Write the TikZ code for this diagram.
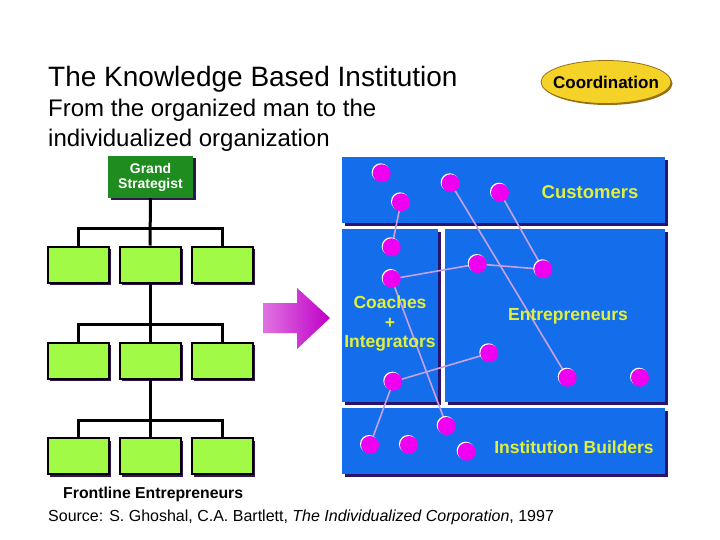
\documentclass[tikz,border=0pt]{standalone}
\usepackage{fontspec}
\setmainfont{Liberation Sans}
\usetikzlibrary{shadows,shapes.geometric}
\definecolor{gboxc}{RGB}{160,250,70}
\definecolor{gsgreen}{RGB}{30,140,30}
\definecolor{shpurple}{RGB}{50,20,80}
\definecolor{bboxc}{RGB}{20,110,235}
\definecolor{shnavy}{RGB}{40,20,110}
\definecolor{dotc}{RGB}{240,0,240}
\definecolor{lavc}{RGB}{200,160,230}
\definecolor{ylwc}{RGB}{225,240,60}
\definecolor{arrL}{RGB}{225,115,225}
\definecolor{arrR}{RGB}{190,0,200}
\definecolor{coordc}{RGB}{245,210,40}
\definecolor{coordsh}{RGB}{150,110,20}
\pgfdeclarelayer{boxlayer}
\pgfdeclarelayer{linklayer}
\pgfsetlayers{boxlayer,linklayer,main}
\begin{document}
\begin{tikzpicture}[x=1pt,y=-1pt,
  orgbox/.style={draw=black, line width=2pt, fill=gboxc, minimum width=61pt, minimum height=36pt, inner sep=0pt,
    drop shadow={shadow xshift=2.5pt, shadow yshift=-2.5pt, fill=shpurple, opacity=1}},
  bluebox/.style={fill=bboxc, inner sep=0pt,
    drop shadow={shadow xshift=3pt, shadow yshift=-3pt, fill=shnavy, opacity=1}},
  dotn/.style={circle, fill=dotc, minimum size=18pt, inner sep=0pt,
    drop shadow={shadow xshift=-1pt, shadow yshift=1pt, fill=white, opacity=1}},
  link/.style={draw=lavc, line width=1.6pt},
  orgline/.style={draw=black, line width=3pt},
  lbl/.style={text=ylwc, font=\bfseries\fontsize{17.5}{19.5}\selectfont, align=center, inner sep=0pt}
]
\begin{pgfonlayer}{boxlayer}
\useasboundingbox (0,0) rectangle (720,540);
\fill[white] (0,0) rectangle (720,540);
\end{pgfonlayer}

% titles
\node[anchor=base west, inner sep=0pt, font=\fontsize{28}{32}\selectfont] (title) at (48,87) {The Knowledge Based Institution};
\node[anchor=base west, inner sep=0pt, font=\fontsize{24}{30}\selectfont] (sub1) at (48,117) {From the organized man to the};
\node[anchor=base west, inner sep=0pt, font=\fontsize{24}{30}\selectfont] (sub2) at (48,147) {individualized organization};

% coordination
\node[ellipse, fill=coordc, draw=coordsh, line width=0.8pt, minimum width=130pt, minimum height=43pt,
  inner xsep=-8.5pt, inner ysep=0pt,
  font=\bfseries\fontsize{17}{20}\selectfont,
  drop shadow={shadow xshift=1.5pt, shadow yshift=-1.5pt, fill=coordsh, opacity=1}] (coord) at (606,82) {Coordination};

% org chart
\node[fill=gsgreen, minimum width=85pt, minimum height=42pt, inner sep=0pt, align=center, text=white,
  font=\bfseries\fontsize{14}{15}\selectfont,
  drop shadow={shadow xshift=2.5pt, shadow yshift=-2.5pt, fill=shpurple, opacity=1}] (gs) at (150.5,177) {Grand\\Strategist};

\node[orgbox] (a1) at (78,264.5) {};
\node[orgbox] (a2) at (150,264.5) {};
\node[orgbox] (a3) at (222,264.5) {};
\node[orgbox] (b1) at (78,360.5) {};
\node[orgbox] (b2) at (150,360.5) {};
\node[orgbox] (b3) at (222,360.5) {};
\node[orgbox] (c1) at (78,456) {};
\node[orgbox] (c2) at (150,456) {};
\node[orgbox] (c3) at (222,456) {};
\coordinate (h1) at (150,229);
\coordinate (h2) at (150,324);
\coordinate (h3) at (150,420);
\draw[orgline] (gs.south) -- (a2.north);
\draw[orgline] (a1.north) |- (h1) -| (a3.north);
\draw[orgline] (a2.south) -- (b2.north);
\draw[orgline] (b1.north) |- (h2) -| (b3.north);
\draw[orgline] (b2.south) -- (c2.north);
\draw[orgline] (c1.north) |- (h3) -| (c3.north);

\node[anchor=base west, inner sep=0pt, font=\bfseries\fontsize{15.8}{18}\selectfont] (front) at (63,498.5) {Frontline Entrepreneurs};
\node[anchor=base west, inner sep=0pt, font=\fontsize{16}{18}\selectfont] (src) at (48,521) {Source: S. Ghoshal, C.A. Bartlett, \textit{The Individualized Corporation}, 1997};

% big arrow
\shade[left color=arrL, right color=arrR] (263,303) -- (297,303) -- (297,288) -- (330,318) -- (297,349) -- (297,333) -- (263,333) -- cycle;

% blue boxes
\begin{pgfonlayer}{boxlayer}
\node[bluebox, minimum width=323pt, minimum height=66pt] (cust) at (503.5,190) {};
\node[bluebox, minimum width=96pt, minimum height=173pt] (coach) at (390,315.5) {};
\node[bluebox, minimum width=220pt, minimum height=173pt] (entr) at (555,315.5) {};
\node[bluebox, minimum width=323pt, minimum height=66pt] (inst) at (503.5,441) {};
\end{pgfonlayer}

% dots
\node[dotn] (d1) at (381.7,173.3) {};
\node[dotn] (d2) at (450.7,183.3) {};
\node[dotn] (d3) at (500,192.7) {};
\node[dotn] (d4) at (401,202.3) {};
\node[dotn] (d5) at (391.7,247.3) {};
\node[dotn] (d6) at (477.7,264) {};
\node[dotn] (d7) at (543.3,269.3) {};
\node[dotn] (d8) at (391.7,279) {};
\node[dotn] (d9) at (489.3,353.3) {};
\node[dotn] (d10) at (393.3,381.7) {};
\node[dotn] (d11) at (567.7,377.7) {};
\node[dotn] (d12) at (640,377.7) {};
\node[dotn] (d13) at (446.7,426) {};
\node[dotn] (d14) at (370,445) {};
\node[dotn] (d15) at (409,445) {};
\node[dotn] (d16) at (466.7,451.7) {};

% links (behind dots)
\begin{pgfonlayer}{linklayer}
\draw[link] (d4.center) -- (d5.center);
\draw[link] (d8.center) -- (d6.center);
\draw[link] (d6.center) -- (d7.center);
\draw[link] (d3.center) -- (d7.center);
\draw[link] (d2.center) -- (d11.center);
\draw[link] (d8.center) -- (d13.center);
\draw[link] (d10.center) -- (d9.center);
\draw[link] (d10.center) -- (d14.center);
\end{pgfonlayer}

% labels
\node[lbl, font=\bfseries\fontsize{18.5}{20}\selectfont] (lcust) at (590,192) {Customers};
\node[lbl] (lcoach) at (390,324) {Coaches\\+\\Integrators};
\node[lbl] (lentr) at (568,316) {Entrepreneurs};
\node[lbl] (linst) at (574,447) {Institution Builders};
\end{tikzpicture}
\end{document}
